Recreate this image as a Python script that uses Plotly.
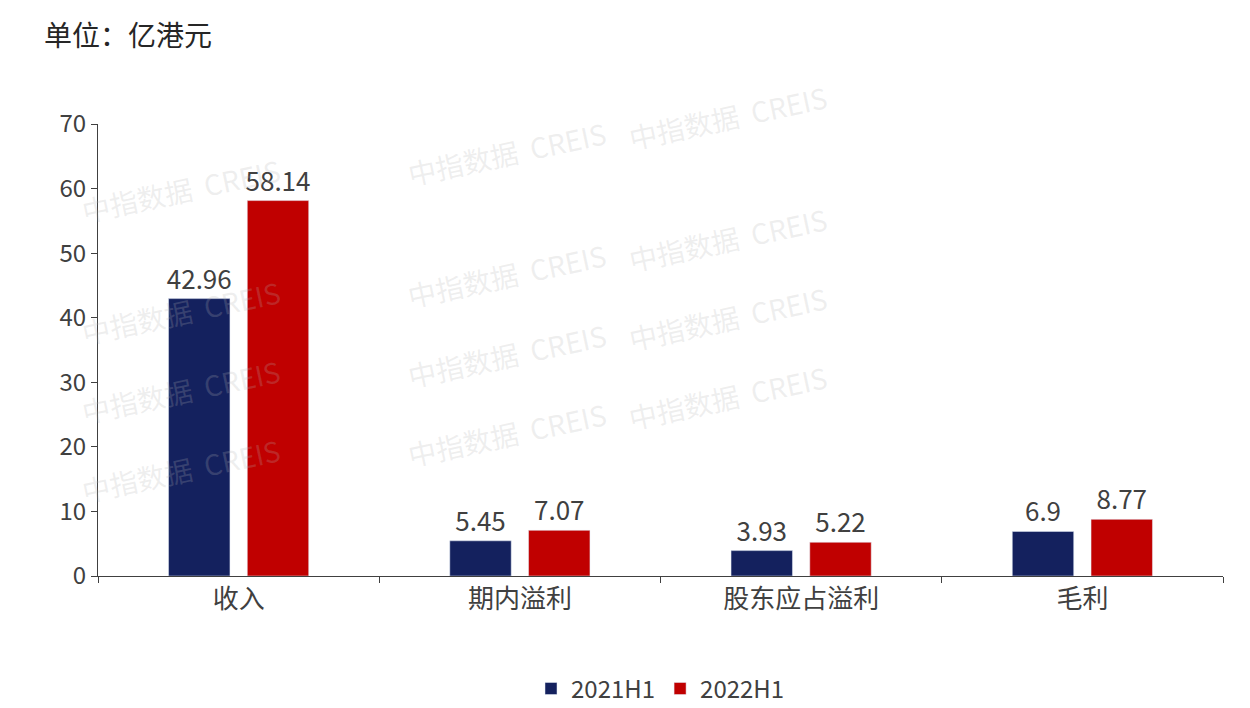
import plotly.graph_objects as go

categories = ["收入", "期内溢利", "股东应占溢利", "毛利"]
s2021 = [42.96, 5.45, 3.93, 6.9]
s2022 = [58.14, 7.07, 5.22, 8.77]
series_names = ["2021H1", "2022H1"]
font = "Noto Sans CJK SC"

fig = go.Figure()
for name, vals, col in [(series_names[0], s2021, "#14215e"), (series_names[1], s2022, "#c00000")]:
    fig.add_bar(x=categories, y=vals, name=name, marker_color=col,
                text=[str(v) for v in vals], textposition="outside", constraintext="none",
                textfont=dict(size=26, color="#404040", family=font), cliponaxis=False)

anns = []
for i in range(4):
    for j in range(3):
        anns.append(dict(xref="paper", yref="paper", x=-0.02 + 0.29 * j, y=0.95 - 0.27 * i + 0.08 * j,
                         text="中指数据  CREIS", showarrow=False, textangle=-12,
                         font=dict(size=28, color="rgba(180,180,180,0.22)", family=font)))
anns.append(dict(xref="paper", yref="paper", x=-0.05, y=1.2, xanchor="left", yanchor="middle",
                 showarrow=False, text="单位：亿港元", font=dict(size=28, color="#262626", family=font)))

fig.update_layout(
    width=1250, height=708, plot_bgcolor="white", paper_bgcolor="white",
    margin=dict(l=90, r=35, t=116, b=140, autoexpand=False),
    barmode="group", bargap=0.44, bargroupgap=0.22,
    font=dict(family=font, size=24, color="#404040"),
    legend=dict(orientation="h", x=0.5, xanchor="center", y=-0.2, yanchor="top",
                font=dict(size=24, color="#404040", family=font)),
    annotations=anns,
)
fig.update_yaxes(range=[0, 70], dtick=10, showgrid=False, showline=True, linecolor="#404040",
                 ticks="outside", ticklen=6, tickcolor="#404040", tickfont=dict(size=24))
fig.update_xaxes(showline=True, linecolor="#404040", ticks="outside", tickson="boundaries",
                 ticklen=6, tickcolor="#404040", tickfont=dict(size=26))
fig.write_html("out.html")
